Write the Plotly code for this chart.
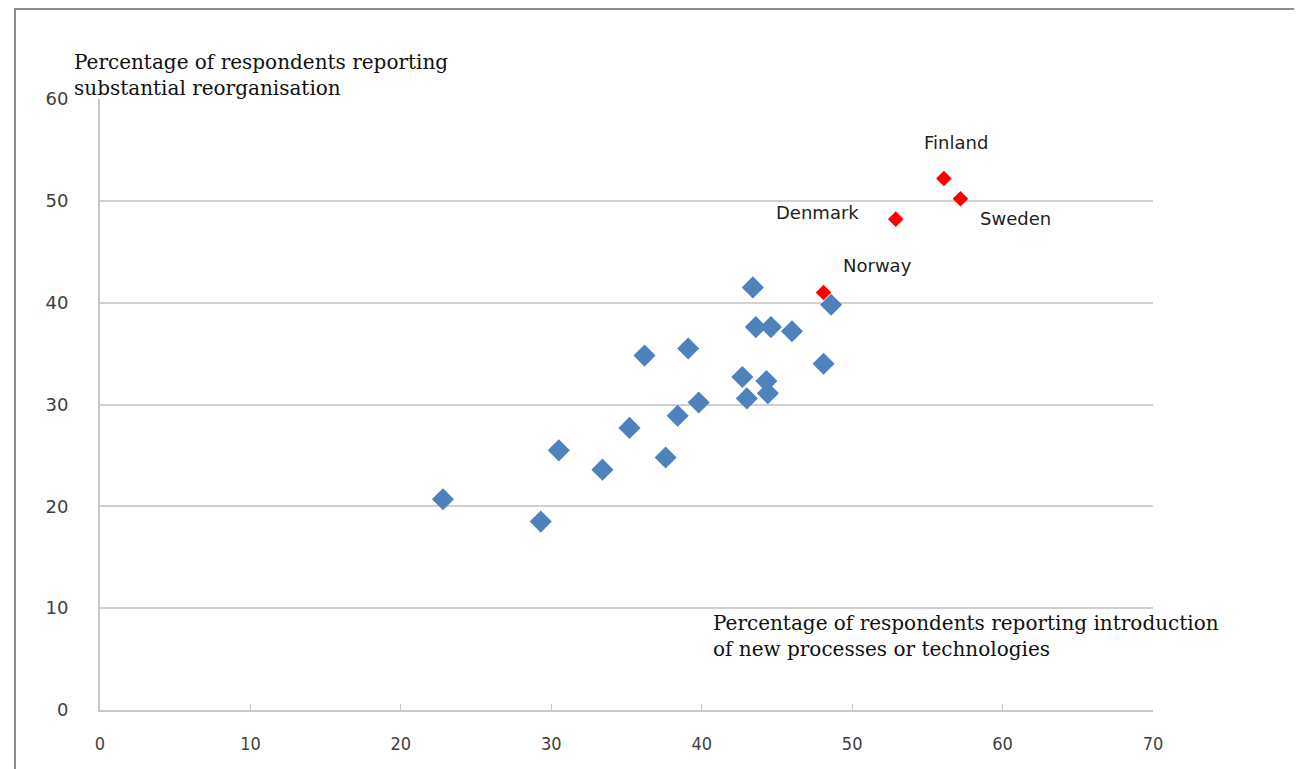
import plotly.graph_objects as go

# Other countries (blue)
other_x = [22.8, 29.3, 30.5, 33.4, 35.2, 36.2, 37.6, 38.4, 39.1, 39.8,
           42.7, 43.0, 43.4, 43.6, 44.6, 44.3, 44.4, 46.0, 48.1, 48.6]
other_y = [20.7, 18.5, 25.5, 23.6, 27.7, 34.8, 24.8, 28.9, 35.5, 30.2,
           32.7, 30.6, 41.5, 37.6, 37.6, 32.3, 31.1, 37.2, 34.0, 39.8]

# Nordic countries (red)
nordic_names = ["Norway", "Denmark", "Finland", "Sweden"]
nordic_x = [48.1, 52.9, 56.1, 57.2]
nordic_y = [41.0, 48.2, 52.2, 50.2]

x_ticks = [0, 10, 20, 30, 40, 50, 60, 70]
y_ticks = [0, 10, 20, 30, 40, 50, 60]

y_title = "Percentage of respondents reporting<br>substantial reorganisation"
x_title = "Percentage of respondents reporting introduction<br>of new processes or technologies"

# label offsets (pixels) relative to their point
label_shift = {"Norway": (54, 27), "Denmark": (-78, 7), "Finland": (12, 36), "Sweden": (55, -20)}

W, H = 1302, 769
OFF = 8  # page body margin
L, T = 100 - OFF, 99 - OFF
R = W - (1153 - OFF)
B = H - (710 - OFF)
pw, ph = W - L - R, H - T - B


def fx(px):
    return (px - OFF - L) / pw


def fy(py):
    return (H - B - (py - OFF)) / ph


fig = go.Figure()
fig.add_trace(go.Scatter(
    x=other_x, y=other_y, mode="markers",
    marker=dict(symbol="diamond", size=17, color="#4F81BD", line=dict(width=0)),
    hoverinfo="x+y", showlegend=False))
fig.add_trace(go.Scatter(
    x=nordic_x, y=nordic_y, mode="markers", text=nordic_names,
    marker=dict(symbol="diamond", size=12, color="#FF0000", line=dict(width=0)),
    showlegend=False))

annotations = []
for name, xv, yv in zip(nordic_names, nordic_x, nordic_y):
    dx, dy = label_shift[name]
    annotations.append(dict(x=xv, y=yv, xref="x", yref="y", text=name, showarrow=False,
                            xshift=dx, yshift=dy,
                            font=dict(family="DejaVu Sans", size=18, color="#222222")))

annotations.append(dict(x=fx(72), y=fy(75), xref="paper", yref="paper",
                        xanchor="left", yanchor="middle", align="left", showarrow=False,
                        text=y_title,
                        font=dict(family="DejaVu Serif", size=20, color="#111111")))
annotations.append(dict(x=fx(711), y=fy(636), xref="paper", yref="paper",
                        xanchor="left", yanchor="middle", align="left", showarrow=False,
                        text=x_title,
                        font=dict(family="DejaVu Serif", size=20, color="#111111")))

shapes = [dict(type="rect", xref="paper", yref="paper",
               x0=fx(15), x1=fx(W + 40),
               y0=fy(H + 40), y1=fy(9),
               line=dict(color="#8c8c8c", width=2), fillcolor="rgba(0,0,0,0)", layer="below")]

fig.update_layout(
    width=W, height=H, autosize=False,
    margin=dict(l=L, r=R, t=T, b=B),
    paper_bgcolor="white", plot_bgcolor="white",
    showlegend=False,
    annotations=annotations, shapes=shapes,
    xaxis=dict(range=[0, 70], tickvals=x_ticks, showgrid=False, zeroline=False,
               showline=True, linecolor="#c8c8c8", linewidth=2,
               ticks="inside", ticklen=6, tickcolor="#c8c8c8", tickwidth=1,
               ticklabelstandoff=16,
               tickfont=dict(family="DejaVu Sans Condensed", size=18, color="#404040")),
    yaxis=dict(range=[0, 60], tickvals=y_ticks, showgrid=True, gridcolor="#d0d0d0", gridwidth=2,
               zeroline=False, showline=True, linecolor="#c8c8c8", linewidth=2,
               ticks="", ticklabelstandoff=26,
               tickfont=dict(family="DejaVu Sans", size=18, color="#404040")),
)

fig.write_html("out.html")
